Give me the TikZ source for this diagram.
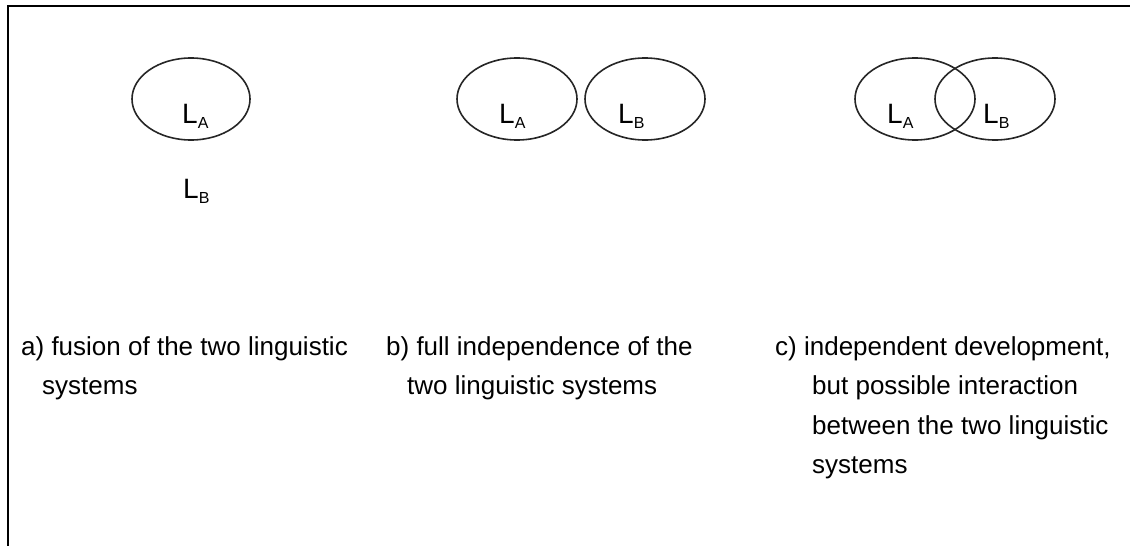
\documentclass[tikz,border=0pt]{standalone}
\usepackage{fontspec}
\setmainfont{Liberation Sans}
\usepackage{tikz}

% language label with a dropped subscript
\newcommand{\langlab}[1]{L{\fontsize{16}{16}\selectfont\raisebox{-5pt}{#1}}}

\begin{document}
\begin{tikzpicture}[x=1pt,y=-1pt]
\tikzstyle{every node}+=[inner sep=0pt]
\tikzstyle{caption}=[anchor=base west,align=left,font=\fontsize{26}{39.5}\selectfont]
\tikzstyle{lab}=[anchor=base west,font=\fontsize{28}{28}\selectfont]
\useasboundingbox (0,0) rectangle (1130,546);
\draw [black,line width=2pt] (8,546) -- (8,6) -- (1130,6);
% a) fusion
\draw [black!85,line width=1.6pt] (191,99) ellipse (59 and 41);
\draw (182,123) node [lab] (aLA) {\langlab{A}};
\draw (183,198) node [lab] (aLB) {\langlab{B}};
% b) full independence
\draw [black!85,line width=1.6pt] (517,99) ellipse (60 and 41);
\draw [black!85,line width=1.6pt] (645,99) ellipse (60 and 41);
\draw (499,123) node [lab] (bLA) {\langlab{A}};
\draw (618,123) node [lab] (bLB) {\langlab{B}};
% c) interaction
\draw [black!85,line width=1.6pt] (915,99) ellipse (60 and 41);
\draw [black!85,line width=1.6pt] (995,99) ellipse (60 and 41);
\draw (887,123) node [lab] (cLA) {\langlab{A}};
\draw (983,123) node [lab] (cLB) {\langlab{B}};
% captions (base is the last line)
\draw (21,394.5) node [caption] (capa) {a) fusion of the two linguistic\\\hspace*{21pt}systems};
\draw (386,394.5) node [caption] (capb) {b) full independence of the\\\hspace*{21pt}two linguistic systems};
\draw (775,473.5) node [caption] (capc) {c) independent development,\\\hspace*{37pt}but possible interaction\\\hspace*{37pt}between the two linguistic\\\hspace*{37pt}systems};
\end{tikzpicture}
\end{document}
